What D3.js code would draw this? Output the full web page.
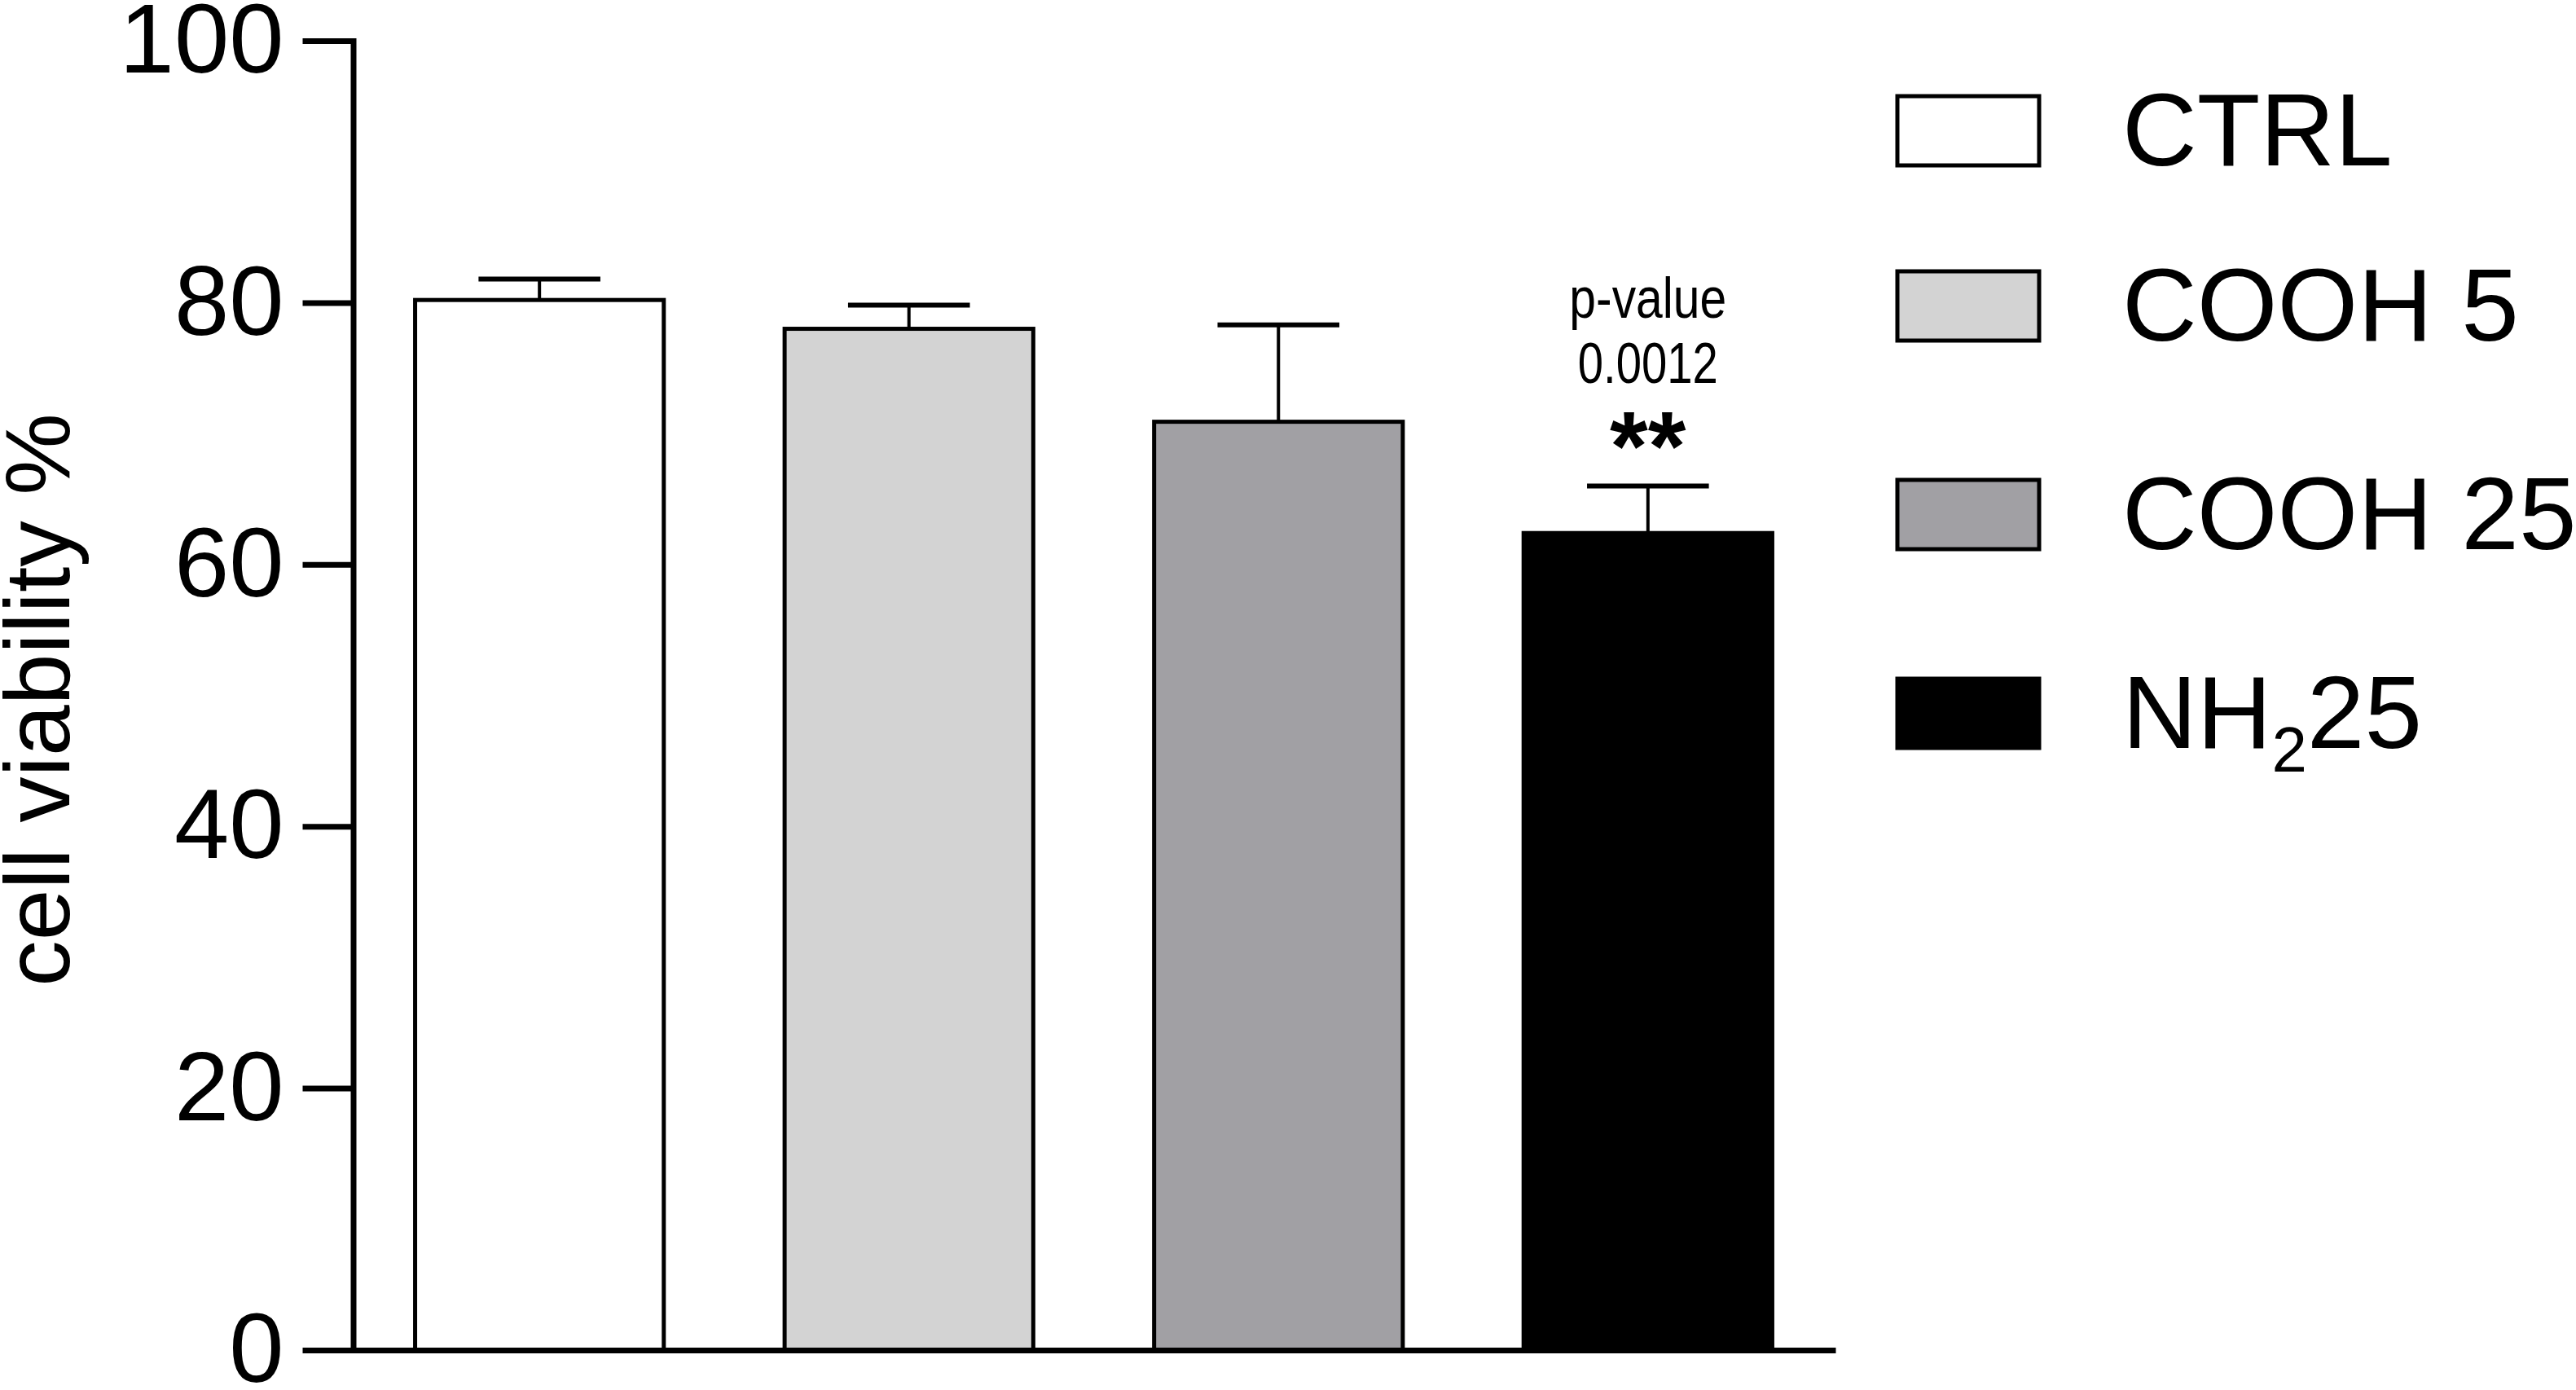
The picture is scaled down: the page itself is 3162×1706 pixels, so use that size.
<!DOCTYPE html>
<html>
<head>
<meta charset="utf-8">
<script src="https://cdn.jsdelivr.net/npm/d3@7"></script>
<style>
  body { margin: 0; background: #fff; }
  svg { display: block; font-family: "Liberation Sans", Arial, sans-serif; }
</style>
</head>
<body>
<div class="chart-wrapper"></div>
<script>
// values
var categories = ["CTRL", "COOH 5", "COOH 25", "NH2 25"];
var means = [80.2, 78.0, 70.9, 62.4];
var errors = [1.6, 1.8, 7.4, 3.6];
var yTicks = [0, 20, 40, 60, 80, 100];
var legendLabels = ["CTRL", "COOH 5", "COOH 25", "NH_{2}25"];
var annotation = ["p-value", "0.0012", "**"];
var annotatedIndex = 3;

var colors = ["#ffffff", "#d3d3d3", "#a1a0a4", "#000000"];

var width = 3162, height = 1706;
var margin = {left: 432, top: 50, bottom: 49};
var plotRight = 2253;

var svg = d3.select(".chart-wrapper").append("svg")
    .attr("width", width)
    .attr("height", height);

svg.append("rect").attr("width", width).attr("height", height).attr("fill", "#fff");

var x = d3.scaleBand()
    .domain(categories)
    .range([margin.left, plotRight])
    .paddingInner(0.327)
    .paddingOuter(0.171);

var y = d3.scaleLinear()
    .domain([0, 100])
    .range([height - margin.bottom, margin.top]);

var color = d3.scaleOrdinal().domain(categories).range(colors);

var data = categories.map(function (c, i) {
    return {name: c, mean: means[i], err: errors[i]};
});

// bars
svg.selectAll(".bar")
    .data(data)
    .enter().append("rect")
    .attr("class", "bar")
    .attr("x", function (d) { return x(d.name); })
    .attr("y", function (d) { return y(d.mean); })
    .attr("width", x.bandwidth())
    .attr("height", function (d) { return y(0) - y(d.mean); })
    .attr("fill", function (d) { return color(d.name); })
    .attr("stroke", "#000")
    .attr("stroke-width", 5);

// error bars (upper only)
var capHalf = x.bandwidth() * 0.245;
var eb = svg.selectAll(".err")
    .data(data)
    .enter().append("g")
    .attr("class", "err");
eb.append("line")
    .attr("x1", function (d) { return x(d.name) + x.bandwidth() / 2; })
    .attr("x2", function (d) { return x(d.name) + x.bandwidth() / 2; })
    .attr("y1", function (d) { return y(d.mean); })
    .attr("y2", function (d) { return y(d.mean + d.err); })
    .attr("stroke", "#000")
    .attr("stroke-width", 4);
eb.append("line")
    .attr("x1", function (d) { return x(d.name) + x.bandwidth() / 2 - capHalf; })
    .attr("x2", function (d) { return x(d.name) + x.bandwidth() / 2 + capHalf; })
    .attr("y1", function (d) { return y(d.mean + d.err); })
    .attr("y2", function (d) { return y(d.mean + d.err); })
    .attr("stroke", "#000")
    .attr("stroke-width", 6);

// axes
var yAxis = d3.axisLeft(y)
    .tickValues(yTicks)
    .tickSize(62)
    .tickSizeOuter(0)
    .tickPadding(23);

var gy = svg.append("g")
    .attr("class", "y axis")
    .attr("transform", "translate(" + (margin.left + 1.5) + ",0)")
    .call(yAxis);
gy.select(".domain").attr("stroke-width", 7).attr("stroke-linecap", "square");
gy.selectAll(".tick line").attr("stroke-width", 7);
gy.selectAll(".tick text")
    .attr("font-size", 121)
    .attr("font-family", "'Liberation Sans', Arial, sans-serif")
    .attr("fill", "#000");

var xAxis = d3.axisBottom(x).tickSize(0).tickSizeOuter(0).tickFormat("");
var gx = svg.append("g")
    .attr("class", "x axis")
    .attr("transform", "translate(0," + y(0) + ")")
    .call(xAxis);
gx.select(".domain").attr("stroke-width", 7);

// y label
svg.append("text")
    .attr("transform", "translate(85," + 859 + ") rotate(-90)")
    .attr("text-anchor", "middle")
    .attr("font-size", 113)
    .attr("fill", "#000")
    .text("cell viability %");

// significance annotation over the last bar
var ax = x(categories[annotatedIndex]) + x.bandwidth() / 2;
svg.append("text")
    .attr("x", ax).attr("y", 390)
    .attr("text-anchor", "middle")
    .attr("font-size", 70)
    .attr("textLength", 193)
    .attr("lengthAdjust", "spacingAndGlyphs")
    .text(annotation[0]);
svg.append("text")
    .attr("x", ax).attr("y", 470)
    .attr("text-anchor", "middle")
    .attr("font-size", 70)
    .attr("textLength", 172)
    .attr("lengthAdjust", "spacingAndGlyphs")
    .text(annotation[1]);
svg.append("text")
    .attr("x", ax).attr("y", 589)
    .attr("text-anchor", "middle")
    .attr("font-size", 120)
    .attr("font-weight", "bold")
    .text(annotation[2]);

// legend
var legendTop = [118, 333, 589, 833];
var legend = svg.selectAll(".legend")
    .data(legendLabels)
    .enter().append("g")
    .attr("class", "legend")
    .attr("transform", function (d, i) { return "translate(2329," + legendTop[i] + ")"; });

legend.append("rect")
    .attr("width", 174)
    .attr("height", 85)
    .attr("fill", function (d, i) { return colors[i]; })
    .attr("stroke", "#000")
    .attr("stroke-width", 5);

legend.each(function (d) {
    var t = d3.select(this).append("text")
        .attr("x", 276)
        .attr("y", 85)
        .attr("font-size", 127)
        .attr("fill", "#000");
    var parts = d.split(/_\{|\}/);
    parts.forEach(function (p, k) {
        if (!p) return;
        if (k % 2 === 1) {
            t.append("tspan").attr("font-size", 78).attr("dy", 29).text(p);
        } else {
            t.append("tspan").attr("dy", k > 0 ? -29 : 0).text(p);
        }
    });
});
</script>
</body>
</html>
